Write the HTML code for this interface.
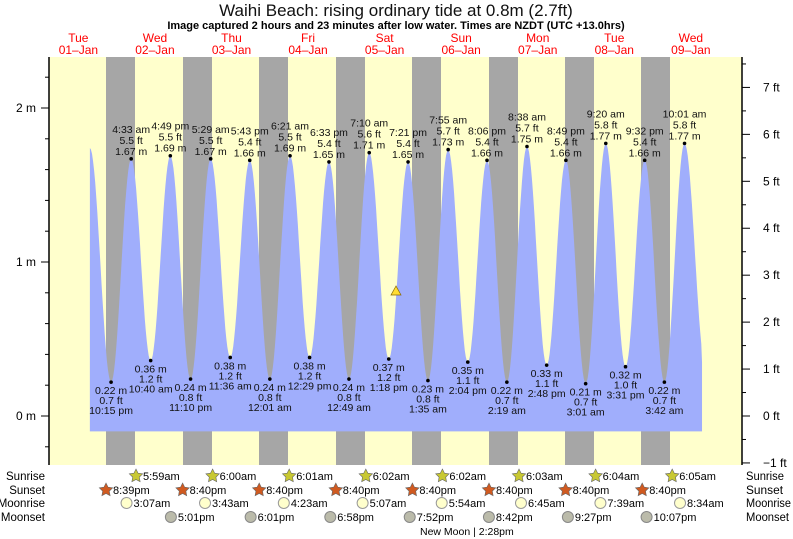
<!DOCTYPE html>
<html><head><meta charset="utf-8"><style>
html,body{margin:0;padding:0;background:#fff;}
svg{display:block;font-family:"Liberation Sans",sans-serif;}
</style></head><body>
<svg id="s" width="793" height="539" xmlns="http://www.w3.org/2000/svg"></svg>
<script>
const s=document.getElementById('s');
let h='';
const X=t=>40.1+3.19*t, Y=m=>416-154*m;
h+='<rect x="49" y="57" width="693" height="408" fill="#ffffcc"/>';
const nights=[106,183,259,336,412,489,565,641];
nights.forEach(x=>h+=`<rect x="${x}" y="57" width="29" height="408" fill="#a6a6a6"/>`);
const ex=[[15.6,1.74],[22.25,.22],[28.55,1.67],[34.67,.36],[40.82,1.69],[47.17,.24],[53.48,1.67],[59.6,.38],[65.72,1.66],[72.02,.24],[78.35,1.69],[84.48,.38],[90.55,1.65],[96.82,.24],[103.17,1.71],[109.3,.37],[115.35,1.65],[121.58,.23],[127.92,1.73],[134.07,.35],[140.1,1.66],[146.32,.22],[152.63,1.75],[158.8,.33],[164.82,1.66],[171.02,.21],[177.33,1.77],[183.52,.32],[189.53,1.66],[195.7,.22],[202.02,1.77],[208.6,.33]];
let p=`M${X(15.6)},${Y(-0.1)} `;
for(let i=0;i<ex.length-1;i++){const[a,ha]=ex[i],[b,hb]=ex[i+1];for(let k=0;k<=20;k++){const t=a+(b-a)*k/20;if(t>207.5)break;const v=ha+(hb-ha)*(1-Math.cos(Math.PI*k/20))/2;p+=`L${X(t).toFixed(1)},${Y(v).toFixed(1)} `;}}
p+=`L${X(207.5)},${Y(0.35)} L${X(207.5)},${Y(-0.1)} Z`;
h+=`<path d="${p}" fill="#a0aefc"/>`;
const lab=[["4:33 am","5.5 ft","1.67 m"],["10:40 am","1.2 ft","0.36 m"],["4:49 pm","5.5 ft","1.69 m"],["11:10 pm","0.8 ft","0.24 m"],["5:29 am","5.5 ft","1.67 m"],["11:36 am","1.2 ft","0.38 m"],["5:43 pm","5.4 ft","1.66 m"],["12:01 am","0.8 ft","0.24 m"],["6:21 am","5.5 ft","1.69 m"],["12:29 pm","1.2 ft","0.38 m"],["6:33 pm","5.4 ft","1.65 m"],["12:49 am","0.8 ft","0.24 m"],["7:10 am","5.6 ft","1.71 m"],["1:18 pm","1.2 ft","0.37 m"],["7:21 pm","5.4 ft","1.65 m"],["1:35 am","0.8 ft","0.23 m"],["7:55 am","5.7 ft","1.73 m"],["2:04 pm","1.1 ft","0.35 m"],["8:06 pm","5.4 ft","1.66 m"],["2:19 am","0.7 ft","0.22 m"],["8:38 am","5.7 ft","1.75 m"],["2:48 pm","1.1 ft","0.33 m"],["8:49 pm","5.4 ft","1.66 m"],["3:01 am","0.7 ft","0.21 m"],["9:20 am","5.8 ft","1.77 m"],["3:31 pm","1.0 ft","0.32 m"],["9:32 pm","5.4 ft","1.66 m"],["3:42 am","0.7 ft","0.22 m"],["10:01 am","5.8 ft","1.77 m"]];
const all=[["10:15 pm","0.7 ft","0.22 m"]].concat(lab);
for(let i=1;i<ex.length-1;i++){const[t,v]=ex[i];const x=X(t),y=Y(v);const L=all[i-1];
h+=`<circle cx="${x}" cy="${y}" r="1.8" fill="#000"/>`;
const hi=v>1;const a=`<text x="${x}" text-anchor="middle" font-size="10.5" fill="#111" `;
if(hi){h+=a+`y="${y-26}">${L[0]}</text>`+a+`y="${y-15}">${L[1]}</text>`+a+`y="${y-4}">${L[2]}</text>`;}
else{h+=a+`y="${y+12}">${L[2]}</text>`+a+`y="${y+22}">${L[1]}</text>`+a+`y="${y+32}">${L[0]}</text>`;}}
h+=`<polygon points="396,286 391,295 401,295" fill="#ffdd33" stroke="#886600" stroke-width="0.7"/>`;
h+='<line x1="49" y1="57" x2="49" y2="465" stroke="#000" stroke-width="1.5"/><line x1="742" y1="57" x2="742" y2="465" stroke="#000" stroke-width="1.5"/>';
for(let m=-0.2;m<=2.25;m+=0.2){const y=Y(m);const maj=Math.abs(m-Math.round(m))<0.01;h+=`<line x1="${maj?41:45}" y1="${y}" x2="49" y2="${y}" stroke="#000"/>`;if(maj)h+=`<text x="36" y="${y+4}" font-size="12" text-anchor="end">${Math.round(m)} m</text>`;}
for(let f=-1;f<=7.6;f+=0.5){const y=416-46.94*f;if(y<57)break;const maj=Math.abs(f-Math.round(f))<0.01;h+=`<line x1="742" y1="${y}" x2="${maj?750:746}" y2="${y}" stroke="#000"/>`;if(maj)h+=`<text x="763" y="${y+4}" font-size="12">${f<0?'\u22121':Math.round(f)} ft</text>`;}
h+='<text x="396" y="16" font-size="17" text-anchor="middle" fill="#111">Waihi Beach: rising  ordinary tide at 0.8m (2.7ft)</text>';
h+='<text x="396" y="29" font-size="11" font-weight="bold" text-anchor="middle">Image captured 2 hours and 23 minutes after low water. Times are NZDT (UTC +13.0hrs)</text>';
const days=["Tue","Wed","Thu","Fri","Sat","Sun","Mon","Tue","Wed"];
days.forEach((d,i)=>{const x=X(12+24*i);h+=`<text x="${x}" y="42" font-size="12" fill="#f00" text-anchor="middle">${d}</text><text x="${x}" y="54" font-size="12" fill="#f00" text-anchor="middle">0${i+1}\u2013Jan</text>`;});
const rows=[["Sunrise",480],["Sunset",494],["Moonrise",507],["Moonset",521]];
rows.forEach(([n,y])=>{h+=`<text x="45" y="${y}" font-size="11.5" text-anchor="end">${n}</text><text x="746" y="${y}" font-size="11.5" textLength="${n=='Moonrise'?45:n=='Moonset'?43:n=='Sunrise'?38:37}" lengthAdjust="spacingAndGlyphs">${n}</text>`;});
function star(x,y,c,r){let pts='';for(let k=0;k<10;k++){const a=-Math.PI/2+k*Math.PI/5,rr=k%2?r*0.5:r;pts+=`${(x+rr*Math.cos(a)).toFixed(1)},${(y+rr*Math.sin(a)).toFixed(1)} `;}return `<polygon points="${pts}" fill="${c}" stroke="#666" stroke-width="0.6"/>`;}
const sr=["5:59am","6:00am","6:01am","6:02am","6:02am","6:03am","6:04am","6:05am"];
sr.forEach((t,i)=>{const x=136+76.6*i;h+=star(x,476,"#c8c832",7)+`<text x="${x+7}" y="480" font-size="11">${t}</text>`;});
const ss=["8:39pm","8:40pm","8:40pm","8:40pm","8:40pm","8:40pm","8:40pm","8:40pm"];
ss.forEach((t,i)=>{const x=106+76.6*i;h+=star(x,490,"#d05a20",7)+`<text x="${x+7}" y="494" font-size="11">${t}</text>`;});
const mr=[["3:07am",27.1],["3:43am",51.7],["4:23am",76.4],["5:07am",101.1],["5:54am",125.9],["6:45am",150.75],["7:39am",175.65],["8:34am",200.6]];
mr.forEach(([t,tt])=>{const x=X(tt);h+=`<circle cx="${x}" cy="503" r="5.5" fill="#ffffcc" stroke="#999"/><text x="${x+7}" y="507" font-size="11">${t}</text>`;});
const ms=[["5:01pm",41],["6:01pm",66],["6:58pm",90.97],["7:52pm",115.87],["8:42pm",140.7],["9:27pm",165.45],["10:07pm",190.12]];
ms.forEach(([t,tt])=>{const x=X(tt);h+=`<circle cx="${x}" cy="517" r="5.5" fill="#bbbbaa" stroke="#888"/><text x="${x+7}" y="521" font-size="11">${t}</text>`;});
h+='<text x="420" y="535" font-size="10.5">New Moon | 2:28pm</text>';
s.innerHTML=h;
</script>
</body></html>
